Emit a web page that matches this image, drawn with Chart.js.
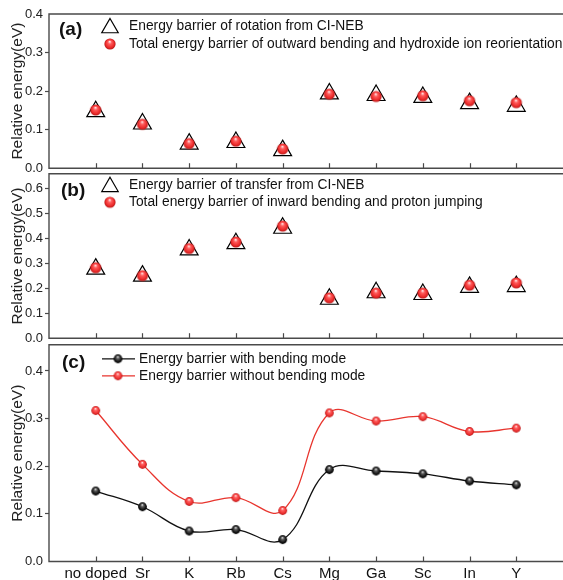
<!DOCTYPE html>
<html><head><meta charset="utf-8">
<script src="https://cdn.jsdelivr.net/npm/chart.js@4.4.0/dist/chart.umd.min.js"></script>
<style>
html,body{margin:0;padding:0;background:#fff;overflow:hidden;}
#wrap{position:relative;width:563px;height:580px;overflow:hidden;background:#fff;}
canvas{position:absolute;left:0;}
</style></head><body>
<div id="wrap">
<canvas id="ca" width="563" height="178" style="top:0px"></canvas>
<canvas id="cb" width="563" height="184" style="top:164px"></canvas>
<canvas id="cc" width="563" height="245" style="top:335px"></canvas>
</div>
<script>
const categories = ['no doped','Sr','K','Rb','Cs','Mg','Ga','Sc','In','Y'];
// panel (a)
const rotationNEB   = [0.147,0.115,0.063,0.067,0.046,0.193,0.189,0.184,0.168,0.161];
const outwardTotal  = [0.151,0.114,0.064,0.070,0.050,0.192,0.186,0.188,0.175,0.170];
// panel (b)
const transferNEB   = [0.278,0.250,0.355,0.380,0.442,0.157,0.183,0.176,0.205,0.208];
const inwardTotal   = [0.283,0.251,0.360,0.386,0.450,0.162,0.181,0.181,0.213,0.222];
// panel (c)
const withBending    = [0.148,0.115,0.064,0.067,0.046,0.193,0.190,0.184,0.169,0.161];
const withoutBending = [0.317,0.204,0.126,0.134,0.107,0.312,0.295,0.304,0.273,0.280];

const yTicksA = [0,0.1,0.2,0.3,0.4];
const yTicksB = [0,0.1,0.2,0.3,0.4,0.5,0.6];
const yTicksC = [0,0.1,0.2,0.3,0.4];

const legendA = ['Energy barrier of rotation from CI-NEB','Total energy barrier of outward bending and hydroxide ion reorientation'];
const legendB = ['Energy barrier of transfer from CI-NEB','Total energy barrier of inward bending and proton jumping'];
const legendC = ['Energy barrier with bending mode','Energy barrier without bending mode'];
const panelLabels = ['(a)','(b)','(c)'];
const yTitle = 'Relative energy(eV)';

Chart.defaults.font.family = '"Liberation Sans", Arial, sans-serif';
Chart.defaults.color = '#222';

function sphere(r, c0, c1, c2, c3){
  const s = Math.ceil(r*2)+2;
  const cv = document.createElement('canvas'); cv.width = s; cv.height = s;
  const g = cv.getContext('2d'); const cx = s/2, cy = s/2;
  const gr = g.createRadialGradient(cx - r*0.05, cy - r*0.45, r*0.05, cx, cy, r);
  gr.addColorStop(0, c0); gr.addColorStop(0.3, c1); gr.addColorStop(0.75, c2); gr.addColorStop(1, c3);
  g.fillStyle = gr; g.beginPath(); g.arc(cx, cy, r, 0, Math.PI*2); g.fill();
  return cv;
}
const redBig   = sphere(5.6, '#ffe6e6', '#ff5c5c', '#ec2b2b', '#b51515');
const redSmall = sphere(4.4, '#ffe6e6', '#ff6060', '#ec3030', '#b81818');
const blkSmall = sphere(4.4, '#e0e0e0', '#5a5a5a', '#141414', '#000');

const pts = arr => arr.map((v,i)=>({x:i, y:v}));
const AXIS = '#4a4a4a';

function triPath(ctx, x, y, r){
  ctx.beginPath();
  ctx.moveTo(x, y - r);
  ctx.lineTo(x + r*Math.sin(Math.PI/3), y + r*0.5);
  ctx.lineTo(x - r*Math.sin(Math.PI/3), y + r*0.5);
  ctx.closePath();
}

const decor = {
  id: 'decor',
  afterDraw(chart, args, o) {
    const ctx = chart.ctx, a = chart.chartArea, xs = chart.scales.x;
    ctx.save();
    ctx.strokeStyle = AXIS; ctx.lineWidth = 1.4;
    ctx.beginPath();
    ctx.moveTo(a.right, a.top); ctx.lineTo(a.left, a.top); ctx.lineTo(a.left, a.bottom); ctx.lineTo(a.right, a.bottom);
    ctx.stroke();
    ctx.lineWidth = 1.2;
    categories.forEach((c,i)=>{
      const px = Math.round(xs.getPixelForValue(i)) + 0.5;
      ctx.beginPath(); ctx.moveTo(px, a.bottom); ctx.lineTo(px, a.bottom - 5); ctx.stroke();
    });
    ctx.fillStyle = '#111';
    ctx.font = 'bold 19px "Liberation Sans", Arial, sans-serif';
    ctx.textBaseline = 'middle'; ctx.textAlign = 'left';
    ctx.fillText(o.label, o.lx, a.top + o.ly);
    ctx.font = '13.8px "Liberation Sans", Arial, sans-serif';
    o.items.forEach((it, k) => {
      const y = a.top + o.ly0 + k*o.dy;
      if (it.kind === 'tri') {
        ctx.strokeStyle = '#000'; ctx.lineWidth = 1.2;
        triPath(ctx, o.mx, y + 2, 9.5); ctx.stroke();
      } else if (it.kind === 'ball') {
        ctx.drawImage(it.img, o.mx - it.img.width/2, y - it.img.height/2);
      } else if (it.kind === 'line') {
        ctx.strokeStyle = it.color; ctx.lineWidth = 1.3;
        ctx.beginPath(); ctx.moveTo(o.mx - 16, y); ctx.lineTo(o.mx + 17, y); ctx.stroke();
        ctx.drawImage(it.img, o.mx - it.img.width/2, y - it.img.height/2);
      }
      ctx.fillStyle = '#111';
      ctx.fillText(it.text, o.tx, y);
    });
    ctx.restore();
  }
};

function yAxis(min, max, ticks){
  return {
    type: 'linear', min: min, max: max,
    afterFit: s => { s.width = 49; },
    afterBuildTicks: s => { s.ticks = ticks.map(v => ({value: v})); },
    ticks: { font: {size: 13}, color: '#222', padding: 2, callback: v => v.toFixed(1) },
    grid: { drawOnChartArea: false, drawTicks: true, tickLength: 4,
      tickColor: c => (c.tick && (c.tick.value === min || c.tick.value === max)) ? 'rgba(0,0,0,0)' : AXIS, tickWidth: 1.2 },
    border: { display: false },
    title: { display: true, text: yTitle, font: {size: 15.5}, color: '#222', padding: {top: 8, bottom: 0} }
  };
}

function xAxis(show){
  return {
    type: 'linear', min: -1, max: 10, display: show,
    afterBuildTicks: s => { s.ticks = categories.map((c,i) => ({value: i})); },
    afterFit: s => { if (show) s.height = 18.5; },
    ticks: { autoSkip: false, maxRotation: 0, font: {size: 15}, color: '#111', padding: 3,
      callback: v => categories[v] },
    grid: { display: false, drawTicks: false },
    border: { display: false }
  };
}

const common = (pad, ymin, ymax, yt, showX, decorOpts) => ({
  responsive: false, animation: false, devicePixelRatio: 1,
  layout: { padding: pad, autoPadding: false },
  scales: { x: xAxis(showX), y: yAxis(ymin, ymax, yt) },
  plugins: { legend: {display: false}, tooltip: {enabled: false}, decor: decorOpts }
});

new Chart(document.getElementById('ca'), {
  type: 'scatter',
  data: { datasets: [
    { label: legendA[1], data: pts(outwardTotal), pointStyle: redBig, order: 0 },
    { label: legendA[0], data: pts(rotationNEB), pointStyle: 'triangle', pointRadius: 10.3,
      borderColor: '#000', backgroundColor: 'rgba(0,0,0,0)', pointBorderWidth: 1.2, order: 1 }
  ]},
  options: common({top: 14, bottom: 8, left: 0, right: 0}, 0, 0.4, yTicksA, false, {
    label: panelLabels[0], lx: 59, ly: 16, mx: 110, tx: 129, ly0: 12, dy: 18,
    items: [{kind:'tri', text: legendA[0]}, {kind:'ball', img: redBig, text: legendA[1]}]
  }),
  plugins: [decor]
});

new Chart(document.getElementById('cb'), {
  type: 'scatter',
  data: { datasets: [
    { label: legendB[1], data: pts(inwardTotal), pointStyle: redBig, order: 0 },
    { label: legendB[0], data: pts(transferNEB), pointStyle: 'triangle', pointRadius: 10.3,
      borderColor: '#000', backgroundColor: 'rgba(0,0,0,0)', pointBorderWidth: 1.2, order: 1 }
  ]},
  options: common({top: 7, bottom: 6.5, left: 0, right: 0}, 0, 0.66, yTicksB, false, {
    label: panelLabels[1], lx: 61, ly: 17, mx: 110, tx: 129, ly0: 11, dy: 17.5,
    items: [{kind:'tri', text: legendB[0]}, {kind:'ball', img: redBig, text: legendB[1]}]
  }),
  plugins: [decor]
});

new Chart(document.getElementById('cc'), {
  type: 'scatter',
  data: { datasets: [
    { label: legendC[0], data: pts(withBending), showLine: true, tension: 0.4,
      borderColor: '#111', borderWidth: 1.3, pointStyle: blkSmall },
    { label: legendC[1], data: pts(withoutBending), showLine: true, tension: 0.4,
      borderColor: '#e8352e', borderWidth: 1.3, pointStyle: redSmall }
  ]},
  options: common({top: 6.7, bottom: 0, left: 0, right: 0}, 0, 0.455, yTicksC, true, {
    label: panelLabels[2], lx: 62, ly: 18, mx: 118, tx: 139, ly0: 14, dy: 17,
    items: [{kind:'line', color: '#111', img: blkSmall, text: legendC[0]},
            {kind:'line', color: '#e8352e', img: redSmall, text: legendC[1]}]
  }),
  plugins: [decor]
});
</script>
</body></html>
